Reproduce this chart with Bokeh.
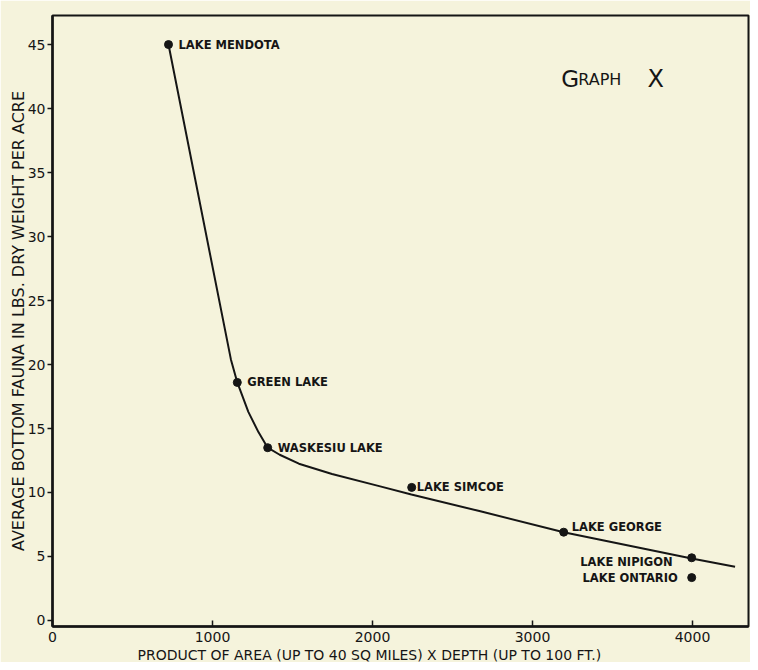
from bokeh.plotting import figure
from bokeh.models import FixedTicker, Label, Title, ColumnDataSource, Range1d
from bokeh.embed import file_html
from bokeh.resources import INLINE
from bokeh.core.properties import value

# ---- data ----
lakes = ["LAKE MENDOTA", "GREEN LAKE", "WASKESIU LAKE", "LAKE SIMCOE",
         "LAKE GEORGE", "LAKE NIPIGON", "LAKE ONTARIO"]
product = [725, 1155, 1345, 2245, 3195, 3995, 3995]
fauna = [45.0, 18.6, 13.5, 10.4, 6.9, 4.9, 3.35]

# hand-drawn fitted curve
curve_x = [725, 1115, 1155, 1224, 1288, 1345, 1420, 1540, 1747,
           2042, 2243, 2668, 3195, 3995, 4266]
curve_y = [45.0, 20.4, 18.6, 16.3, 14.7, 13.5, 12.95, 12.25, 11.45,
           10.5, 9.85, 8.55, 6.9, 4.85, 4.2]

x_ticks = [0, 1000, 2000, 3000, 4000]
y_ticks = [0, 5, 10, 15, 20, 25, 30, 35, 40, 45]

x_label = "PRODUCT OF AREA (UP TO 40 SQ MILES) X DEPTH (UP TO 100 FT.)"
y_label = "AVERAGE BOTTOM FAUNA IN LBS. DRY WEIGHT PER ACRE"

# ---- label placement (styling, not data) ----
left_idx = [0, 1, 2, 3, 4]
left_dx = [10, 10, 10, 5, 8]
left_dy = [0, 0, 0, 0, -5]
right_idx = [5, 6]
right_dx = [-19, -14]
right_dy = [4, 0]

PAPER = "#f5f3dc"
INK = "#151515"
FONT = "DejaVu Sans"

p = figure(width=750, height=662, output_backend="svg", toolbar_location=None,
           x_range=Range1d(0, 4350), y_range=Range1d(-0.47, 47.27),
           min_border_left=52, min_border_right=2, min_border_top=15,
           min_border_bottom=34)

p.background_fill_color = PAPER
p.border_fill_color = PAPER
p.outline_line_color = INK
p.outline_line_width = 2
p.grid.visible = False

p.xaxis.ticker = FixedTicker(ticks=x_ticks)
p.yaxis.ticker = FixedTicker(ticks=y_ticks)
for ax in (p.xaxis, p.yaxis):
    ax.axis_line_color = INK
    ax.axis_line_width = 2.5
    ax.major_tick_line_color = INK
    ax.major_tick_line_width = 1.5
    ax.minor_tick_line_color = None
    ax.major_label_text_color = INK
    ax.major_label_text_font = FONT
    ax.major_label_text_font_size = "14px"

p.xaxis.major_tick_in = 6
p.xaxis.major_tick_out = 0
p.xaxis.major_label_standoff = 5

p.yaxis.major_tick_in = 0
p.yaxis.major_tick_out = 5
p.yaxis.major_label_standoff = 2
p.yaxis.axis_label = y_label
p.yaxis.axis_label_text_font = FONT
p.yaxis.axis_label_text_font_size = "16px"
p.yaxis.axis_label_text_font_style = "normal"
p.yaxis.axis_label_text_color = INK
p.yaxis.axis_label_standoff = -3

xt = Title(text=x_label, align="left", offset=85, standoff=0,
           text_font=FONT, text_font_size="14px", text_font_style="normal",
           text_color=INK)
p.add_layout(xt, "below")

# curve
p.line(curve_x, curve_y, line_color=INK, line_width=2)

src = ColumnDataSource(dict(x=product, y=fauna, name=lakes))
p.scatter("x", "y", source=src, size=8, color=INK)

lsrc = ColumnDataSource(dict(x=[product[i] for i in left_idx],
                             y=[fauna[i] for i in left_idx],
                             name=[lakes[i] for i in left_idx],
                             dx=left_dx, dy=left_dy))
p.text("x", "y", text="name", source=lsrc, x_offset="dx", y_offset="dy",
       text_font=value(FONT), text_font_size="11.5px", text_font_style="bold",
       text_align="left", text_baseline="middle", text_color=INK)

rsrc = ColumnDataSource(dict(x=[product[i] for i in right_idx],
                             y=[fauna[i] for i in right_idx],
                             name=[lakes[i] for i in right_idx],
                             dx=right_dx, dy=right_dy))
p.text("x", "y", text="name", source=rsrc, x_offset="dx", y_offset="dy",
       text_font=value(FONT), text_font_size="11.5px", text_font_style="bold",
       text_align="right", text_baseline="middle", text_color=INK)

# "GRAPH X" caption in small-caps style
for txt, xx, size in (("G", 3180, "23px"), ("RAPH", 3286, "16px"), ("X", 3719, "24px")):
    p.add_layout(Label(x=xx, y=42.3, text=txt, text_font=FONT, text_font_size=size,
                       text_color=INK, text_baseline="alphabetic", text_align="left"))

open("out.html", "w").write(file_html(p, INLINE))
